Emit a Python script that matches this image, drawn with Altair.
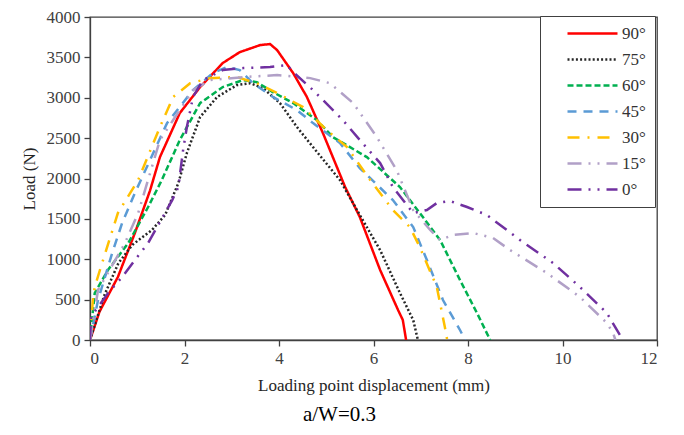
import altair as alt
import pandas as pd

labels = ["90°", "75°", "60°", "45°", "30°", "15°", "0°"]
colors = ["#FF0000", "#262626", "#00B050", "#5B9BD5", "#FFC000", "#B1A0C7", "#7030A0"]
dashes = [[1, 0], [2, 2.2], [6, 3], [9, 7], [12, 8, 2, 8], [14, 7, 2, 7, 2, 7], [14, 7, 2, 7, 2, 7]]

x90 = [0, 0.2, 0.59, 0.95, 1.27, 1.48, 1.9, 2.33, 2.81, 3.17, 3.6, 3.81, 3.96, 4.3, 4.59, 4.93, 5.4, 5.71, 6.14, 6.52, 6.62, 6.69]
y90 = [0, 350, 780, 1325, 1850, 2265, 2810, 3132, 3430, 3565, 3652, 3665, 3590, 3305, 3010, 2562, 1894, 1523, 867, 371, 248, 0]

x75 = [0, 0.3, 0.6, 0.9, 1.31, 1.59, 1.87, 2.05, 2.33, 2.69, 3.11, 3.39, 3.66, 4.02, 4.38, 4.72, 5.29, 5.71, 6.14, 6.56, 6.84, 6.94]
y75 = [0, 550, 950, 1180, 1362, 1548, 1943, 2315, 2760, 3010, 3157, 3180, 3120, 2934, 2637, 2389, 1981, 1548, 1114, 582, 248, 0]

x60 = [0, 0.1, 0.38, 0.81, 1.23, 1.52, 1.9, 2.33, 2.81, 3.24, 3.53, 3.87, 4.3, 4.8, 5.14, 5.86, 6.56, 6.98, 7.41, 7.83, 8.19, 8.47]
y60 = [0, 580, 867, 1200, 1647, 1981, 2476, 2934, 3132, 3219, 3194, 3070, 2934, 2724, 2513, 2265, 1894, 1572, 1238, 743, 334, 0]

x45 = [0, 0.17, 0.47, 0.68, 0.95, 1.63, 2.18, 2.6, 2.9, 3.17, 3.45, 3.87, 4.38, 4.72, 5.29, 5.71, 6.41, 6.84, 7.13, 7.47, 7.83, 7.94]
y45 = [0, 495, 1077, 1448, 1820, 2686, 3095, 3305, 3380, 3343, 3180, 3010, 2847, 2686, 2439, 2129, 1733, 1399, 990, 495, 124, 0]

x30 = [0, 0.06, 0.1, 0.21, 0.59, 1.02, 1.48, 1.76, 2.12, 2.54, 3.11, 3.53, 3.96, 4.51, 5.01, 5.44, 5.93, 6.41, 6.77, 6.98, 7.34, 7.51, 7.56]
y30 = [0, 495, 656, 867, 1572, 1981, 2637, 3010, 3180, 3243, 3256, 3180, 3058, 2884, 2600, 2389, 1981, 1609, 1399, 1151, 656, 161, 0]

x15 = [0, 0.17, 0.74, 1.02, 1.48, 1.76, 2.18, 2.54, 3.24, 3.96, 4.66, 5.08, 5.57, 6.07, 6.49, 6.84, 7.2, 7.41, 7.68, 8.11, 8.53, 8.89, 9.67, 10.37, 10.94, 11.07, 11.12]
y15 = [0, 619, 1200, 1572, 2476, 2724, 3095, 3219, 3256, 3281, 3243, 3180, 2934, 2513, 2104, 1609, 1362, 1238, 1300, 1325, 1263, 1114, 829, 532, 210, 87, 0]

x0 = [0, 0.02, 0.38, 0.68, 0.95, 1.23, 1.74, 1.87, 1.97, 2.05, 2.18, 2.39, 2.81, 3.24, 3.81, 4.17, 4.3, 4.72, 5.35, 5.71, 6.14, 6.41, 6.84, 7.13, 7.34, 7.62, 7.98, 8.4, 9.1, 9.8, 10.37, 10.94, 11.15, 11.28]
y0 = [0, 285, 580, 780, 990, 1200, 1733, 1894, 2352, 2637, 3010, 3219, 3343, 3367, 3380, 3405, 3318, 3095, 2724, 2476, 2191, 1894, 1572, 1609, 1696, 1721, 1647, 1548, 1238, 953, 656, 334, 124, 0]

series_x = [x90, x75, x60, x45, x30, x15, x0]
series_y = [y90, y75, y60, y45, y30, y15, y0]

rows = []
for lab, xs, ys in zip(labels, series_x, series_y):
    for i, (xv, yv) in enumerate(zip(xs, ys)):
        rows.append({"angle": lab, "disp": xv, "load": yv, "i": i})
df = pd.DataFrame(rows)

FONT = "Liberation Serif"

chart = alt.Chart(df).mark_line(strokeWidth=2.5, strokeCap="butt", clip=True).encode(
    x=alt.X("disp:Q", scale=alt.Scale(domain=[0, 12], nice=False),
            axis=alt.Axis(values=[0, 2, 4, 6, 8, 10, 12], format="d",
                          title="Loading point displacement (mm)", titlePadding=11,
                          labelFont=FONT, titleFont=FONT)),
    y=alt.Y("load:Q", scale=alt.Scale(domain=[0, 4000], nice=False),
            axis=alt.Axis(values=list(range(0, 4001, 500)), format="d", title="Load (N)",
                          titlePadding=8, labelFont=FONT, titleFont=FONT)),
    color=alt.Color("angle:N", sort=labels,
                    scale=alt.Scale(domain=labels, range=colors),
                    legend=alt.Legend(title=None, orient="none", legendX=450, legendY=-1,
                                      symbolType="stroke", symbolSize=2500, symbolStrokeWidth=2.5,
                                      labelFont=FONT, labelFontSize=17, labelColor="#333333",
                                      strokeColor="#404040", fillColor="white", padding=9,
                                      symbolOffset=17, labelOffset=3, rowPadding=8,
                                      clipHeight=17)),
    strokeDash=alt.StrokeDash("angle:N", sort=labels,
                              scale=alt.Scale(domain=labels, range=dashes), legend=None),
    order=alt.Order("i:Q"),
).properties(
    width=567, height=323,
    autosize=alt.AutoSizeParams(type="none"),
    padding={"left": 82, "top": 9, "right": 19, "bottom": 87},
    title=alt.TitleParams("a/W=0.3", orient="bottom", font=FONT, fontSize=21, fontWeight="normal",
                          color="#000000", offset=11, dx=-34),
).configure(font=FONT).configure_view(stroke="#404040", strokeWidth=1.3).configure_axis(
    grid=False, domainColor="#404040", domainWidth=1.3, tickColor="#404040", tickWidth=1.3, tickSize=6,
    labelFont=FONT, labelFontSize=17, labelColor="#404040", labelPadding=4,
    titleFont=FONT, titleFontSize=17, titleFontWeight="normal", titleColor="#262626",
).configure_legend(symbolLimit=0)

chart.save("out.html", embed_options={"renderer": "svg", "actions": False})
